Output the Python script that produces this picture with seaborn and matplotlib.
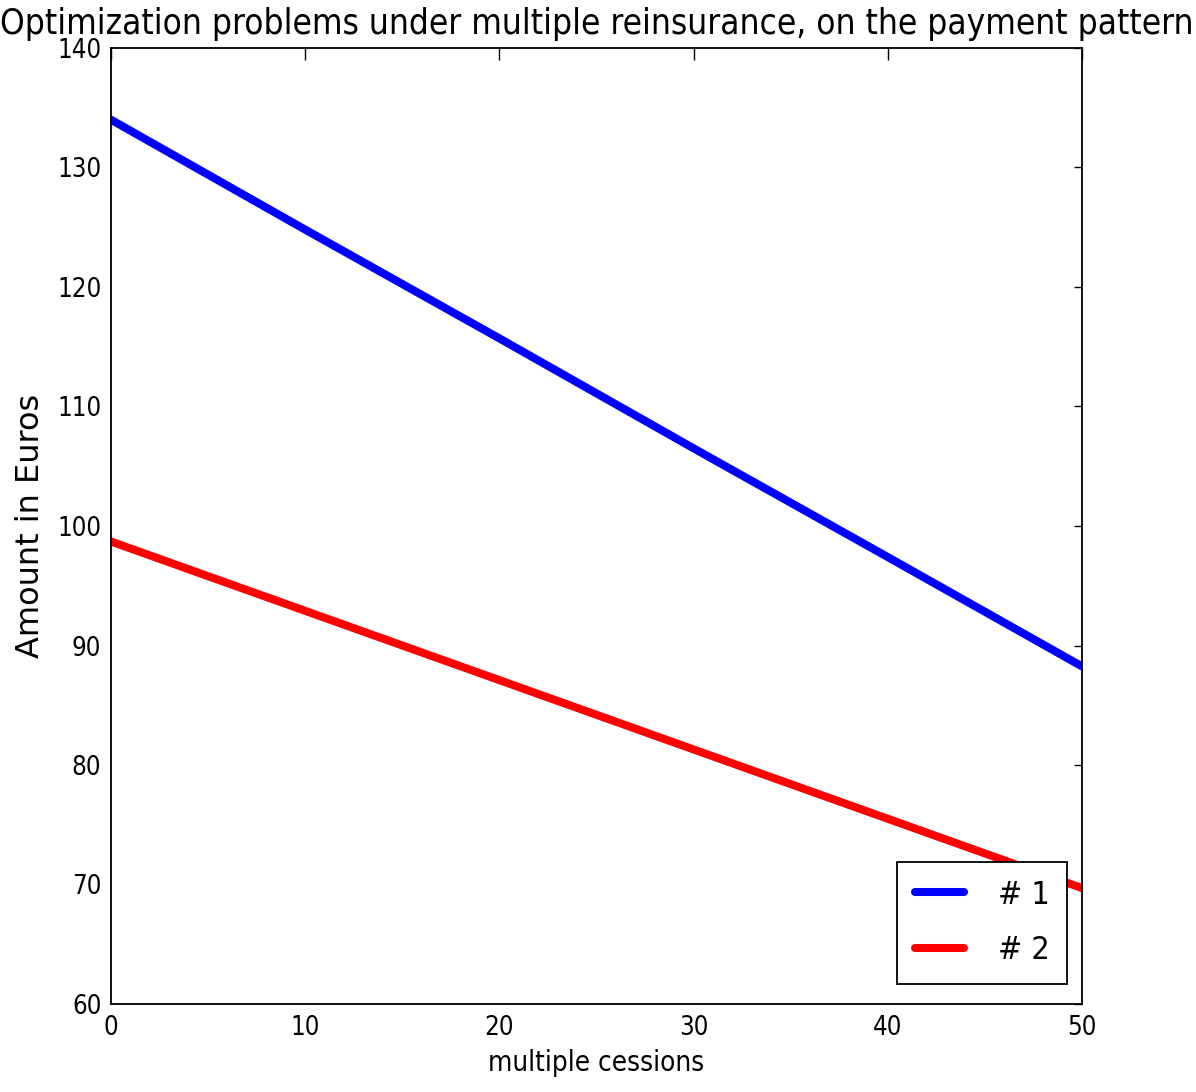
import matplotlib
matplotlib.use("Agg")
import matplotlib.pyplot as plt
from matplotlib.lines import Line2D
import seaborn as sns
import pandas as pd

cessions = [0, 10, 20, 30, 40, 50]
series1 = [134.0, 124.8, 115.7, 106.5, 97.4, 88.25]
series2 = [98.7, 92.9, 87.1, 81.3, 75.5, 69.7]
labels = ["# 1", "# 2"]
colors = ["#0000ff", "#ff0000"]
xticks = [0, 10, 20, 30, 40, 50]
yticks = [60, 70, 80, 90, 100, 110, 120, 130, 140]
title = "Optimization problems under multiple reinsurance, on the payment pattern"
xlabel = "multiple cessions"
ylabel = "Amount in Euros"

sns.set_theme(style="white")
plt.rcParams["font.family"] = ["DejaVu Sans"]
plt.rcParams["font.stretch"] = "condensed"
plt.rcParams["text.color"] = "black"
plt.rcParams["axes.labelcolor"] = "black"

df = pd.DataFrame({
    "x": cessions * 2,
    "y": series1 + series2,
    "series": [labels[0]] * len(cessions) + [labels[1]] * len(cessions),
})

fig = plt.figure(figsize=(11.96, 10.92), dpi=100)
ax = fig.add_axes([111 / 1196, 1 - 1004 / 1092, (1082 - 111) / 1196, (1004 - 48) / 1092])
sns.lineplot(data=df, x="x", y="y", hue="series", palette=colors, linewidth=5.8,
             ax=ax, legend=False)
ax.set_xlim(0, 50)
ax.set_ylim(60, 140)
ax.set_xticks(xticks)
ax.set_yticks(yticks)
ax.tick_params(axis="both", which="both", direction="in", top=True, right=True,
               labelsize=18.5, colors="black", width=1)
ax.tick_params(axis="x", length=8.6, pad=8)
ax.tick_params(axis="y", length=5.8, pad=7)
for s in ax.spines.values():
    s.set_color("black")
    s.set_linewidth(1.3)
ax.set_xlabel(xlabel, fontsize=20, labelpad=6)
ax.set_ylabel(ylabel, fontsize=23, fontstretch="normal", labelpad=8)
ax.set_title(title, fontsize=25.2, pad=10)

handles = [Line2D([], [], color=c, linewidth=5.8) for c in colors]
leg = ax.legend(handles, labels, loc="lower right", bbox_to_anchor=(1067 / 1196, 1 - 984 / 1092),
                bbox_transform=fig.transFigure, fontsize=23, frameon=True, fancybox=False,
                handlelength=1.55, handletextpad=1.05, labelspacing=0.78, borderpad=0.55,
                borderaxespad=0)
leg.get_frame().set_edgecolor("black")
leg.get_frame().set_linewidth(1.3)
leg.get_frame().set_alpha(1)

fig.savefig("out.png", dpi=100)
